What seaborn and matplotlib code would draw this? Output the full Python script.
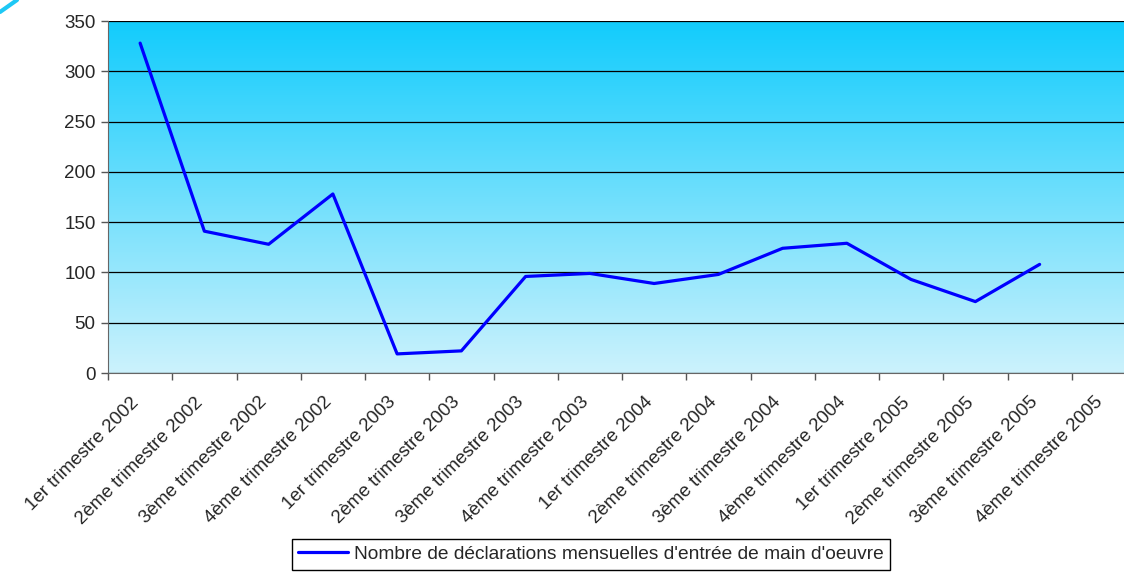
import numpy as np
import pandas as pd
import matplotlib
matplotlib.use('Agg')
import matplotlib.pyplot as plt
import matplotlib.transforms as mtransforms
import seaborn as sns
from matplotlib.lines import Line2D

# Data
quarters = ['1er trimestre 2002', '2ème trimestre 2002', '3ème trimestre 2002', '4ème trimestre 2002',
            '1er trimestre 2003', '2ème trimestre 2003', '3ème trimestre 2003', '4ème trimestre 2003',
            '1er trimestre 2004', '2ème trimestre 2004', '3ème trimestre 2004', '4ème trimestre 2004',
            '1er trimestre 2005', '2ème trimestre 2005', '3ème trimestre 2005', '4ème trimestre 2005']
declarations = [328, 141, 128, 178, 19, 22, 96, 99, 89, 98, 124, 129, 93, 71, 108, np.nan]
y_ticks = [0, 50, 100, 150, 200, 250, 300, 350]
series_name = "Nombre de déclarations mensuelles d'entrée de main d'oeuvre"

df = pd.DataFrame({'pos': np.arange(len(quarters)), 'quarter': quarters, 'value': declarations})

sns.set_style('white')
plt.rcParams['font.family'] = ['Liberation Sans', 'DejaVu Sans']

W, H = 1124, 574
fig = plt.figure(figsize=(W / 100, H / 100), dpi=100)
ax = fig.add_axes([108 / W, 1 - 373 / H, 1028 / W, 352 / H])

# gradient background of the plot area
top = np.array([18, 204, 252]) / 255
bottom = np.array([204, 242, 253]) / 255
t = np.linspace(0, 1, 256)[:, None]
grad = (top * (1 - t) + bottom * t)[:, None, :]
ax.imshow(grad, extent=[0, 1, 0, 1], transform=ax.transAxes, aspect='auto', zorder=0)

sns.lineplot(data=df.dropna(), x='pos', y='value', color='#0000ff', linewidth=2.3,
             ax=ax, label=series_name, legend=False, zorder=3)

ax.set_xlim(-0.5, len(quarters) - 0.5)
ax.set_ylim(0, 350)
ax.set_yticks(y_ticks)
ax.yaxis.grid(True, color='black', linewidth=0.9)
for gl in ax.get_ygridlines():
    gl.set_zorder(2)
ax.set_xlabel('')
ax.set_ylabel('')

# category labels at centres, tick marks at boundaries
ax.set_xticks(df['pos'])
ax.set_xticklabels(quarters, rotation=45, ha='right', rotation_mode='anchor', fontsize=13.5)
ax.tick_params(axis='x', which='major', length=0, pad=15)
shift = mtransforms.ScaledTranslation(-10 / 100, 0, fig.dpi_scale_trans)
for lab in ax.get_xticklabels():
    lab.set_transform(lab.get_transform() + shift)
ax.set_xticks(np.arange(len(quarters)) - 0.5, minor=True)
ax.tick_params(axis='x', which='minor', length=5, color='#555555', width=1, direction='out', bottom=True)
ax.tick_params(axis='y', labelsize=13.5, length=5, color='#555555', width=1, direction='out', left=True, pad=4)

for s in ['top', 'right']:
    ax.spines[s].set_visible(False)
ax.spines['left'].set_color('#666666')
ax.spines['bottom'].set_color('#666666')

handle = Line2D([], [], color='#0000ff', linewidth=2.3)
fig.legend([handle], [series_name], loc='upper center', bbox_to_anchor=(591 / W, 1 - 539 / H),
           fontsize=13.8, frameon=True, fancybox=False, edgecolor='black', framealpha=1,
           handlelength=2.6, handletextpad=0.3, borderpad=0.35, borderaxespad=0)

# decorative corner arc
fig.add_artist(Line2D([0, 17 / W], [1 - 12 / H, 1], color='#1ec8f5', linewidth=3))

fig.savefig('out.png', dpi=100)
